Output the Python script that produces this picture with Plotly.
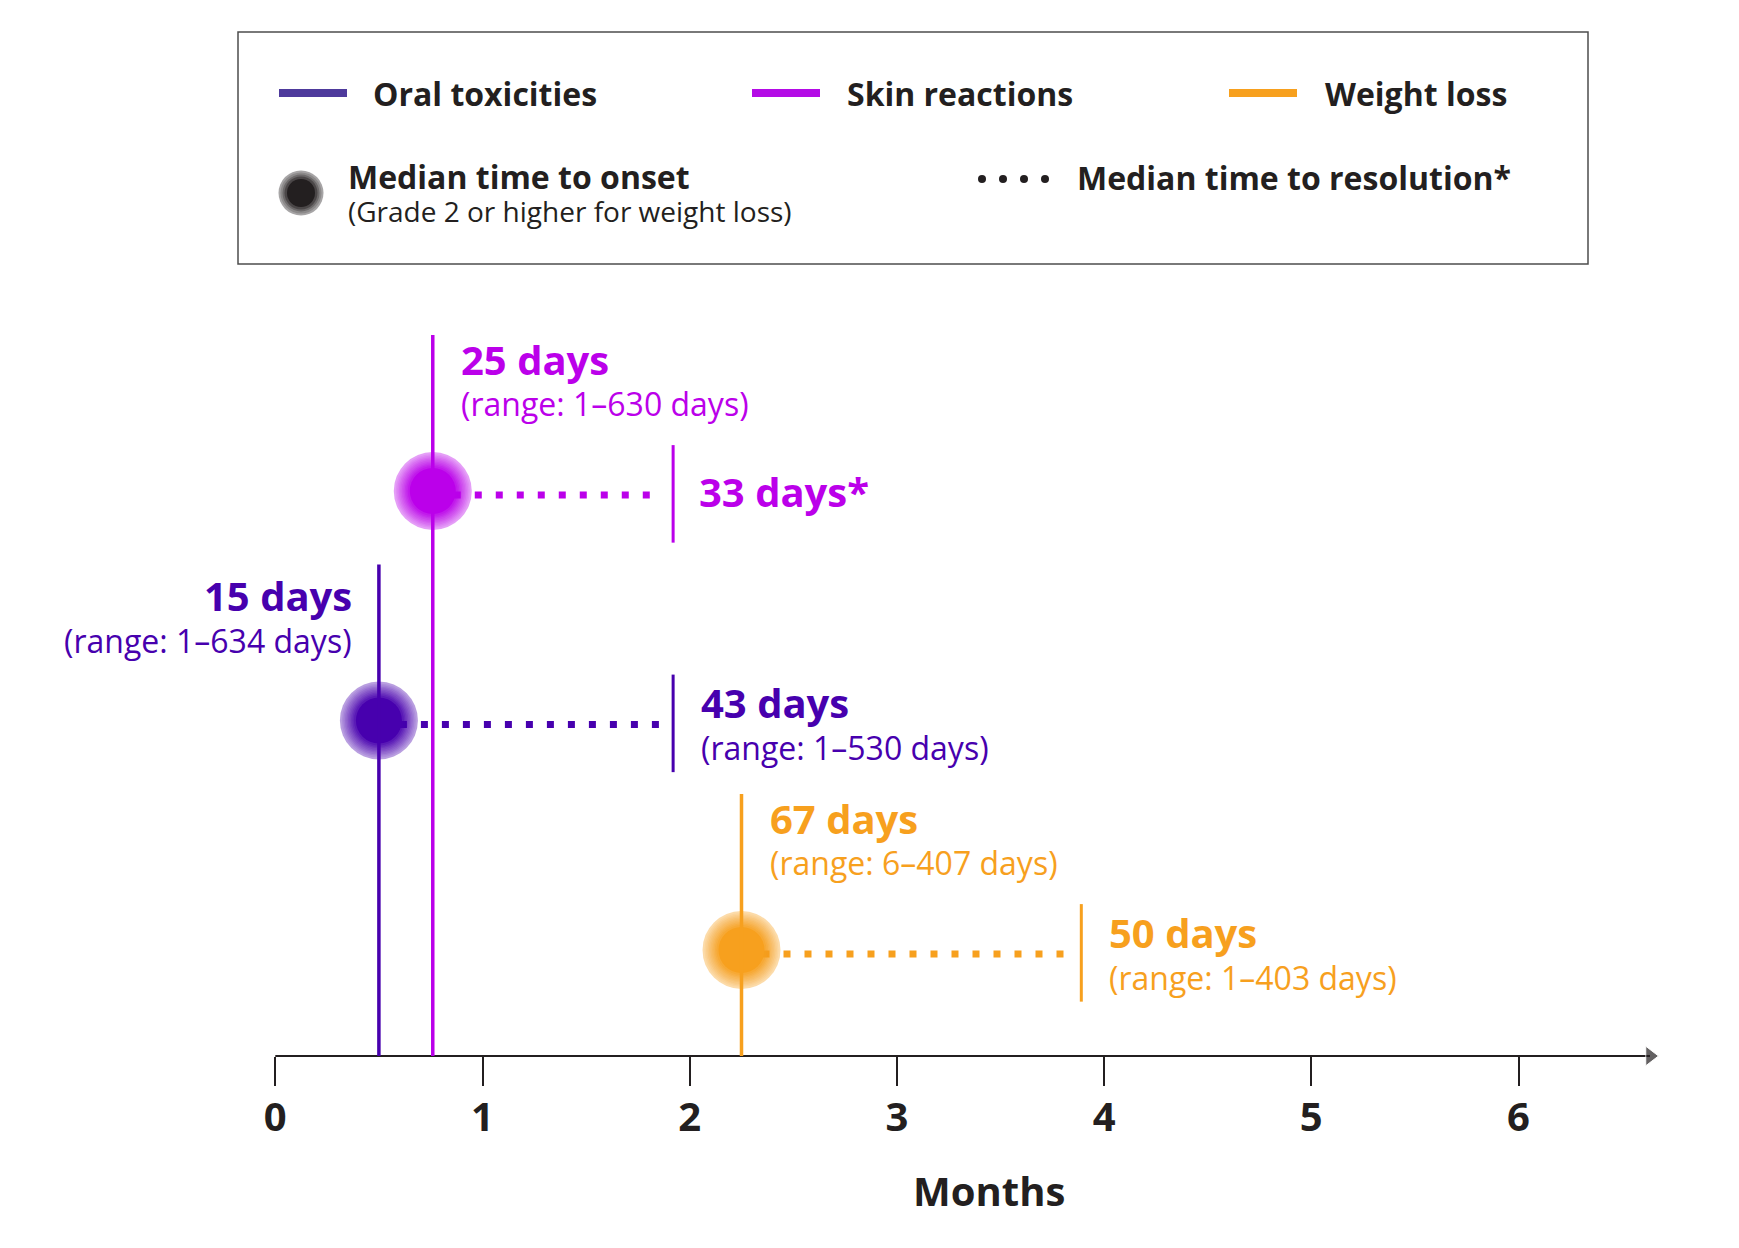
import plotly.graph_objects as go

# values (time axis is in months)
categories = ["Oral toxicities", "Skin reactions", "Weight loss"]
onset_days = [15, 25, 67]
onset_range = ["1–634", "1–630", "6–407"]
onset_month = [0.5, 0.76, 2.25]
resolution_days = [43, 33, 50]
resolution_range = ["1–530", "", "1–403"]
resolution_note = ["", "*", ""]
resolution_month = [1.92, 1.92, 3.89]
month_ticks = [0, 1, 2, 3, 4, 5, 6]

# styling
colors = {"Oral toxicities": "#4700ae", "Skin reactions": "#bb00ea", "Weight loss": "#f7a01e"}
legend_colors = {"Oral toxicities": "#4e3a9c", "Skin reactions": "#b40be6", "Weight loss": "#f7a01e"}
DARK = "#231f20"
FONT = "Open Sans"

# page size; the html body adds an 8px margin round the figure
W, H = 1739, 1248
OFF = 8
W_FIG, H_FIG = W - 2 * OFF, H - 2 * OFF

# scale of the time axis and of the rows, in page pixels
X0_PX, PX_PER_MONTH = 275.3, 207.2
ROW0_PX, PX_PER_ROW = 950, 229.5

# row of each category (top to bottom: skin, oral, weight)
row_of = {"Skin reactions": 2, "Oral toxicities": 1, "Weight loss": 0}
AXIS_Y = (ROW0_PX - 1056) / PX_PER_ROW
AXIS_END = (1650 - X0_PX) / PX_PER_MONTH
DOT_GAP = 12 / PX_PER_MONTH

# soft edged dots: (size, opacity) layers, outside in
HALO = [(78, 0.38), (74, 0.1), (71, 0.1), (68, 0.12), (65, 0.12), (62, 0.14),
        (59, 0.16), (56, 0.2), (53, 0.25), (50, 0.35), (46, 1.0)]


def px(x):
    return (x - OFF) / W_FIG


def py(y):
    return 1 - (y - OFF) / H_FIG


fig = go.Figure()
ann = []


def label(x, y, text, size, color, anchor="left", shift=0, bold=False, xref="x", yref="y"):
    if bold:
        text = "<b>" + text + "</b>"
    ann.append(dict(x=x, y=y, xref=xref, yref=yref, text=text, showarrow=False,
                    xanchor=anchor, yanchor="middle", xshift=shift,
                    font=dict(family=FONT, size=size, color=color)))


# time axis with arrow
fig.add_trace(go.Scatter(x=[0, AXIS_END], y=[AXIS_Y, AXIS_Y], mode="lines+markers",
                         line=dict(color=DARK, width=2),
                         marker=dict(symbol="triangle-right", size=[0, 17], color=DARK),
                         hoverinfo="skip"))

for i, cat in enumerate(categories):
    r = row_of[cat]
    c = colors[cat]
    # dotted line: onset -> resolution
    fig.add_trace(go.Scatter(x=[onset_month[i], resolution_month[i] - DOT_GAP], y=[r - 0.017, r - 0.017],
                             mode="lines", line=dict(color=c, width=7, dash="7px,14px"),
                             hoverinfo="skip"))
    # onset marker
    for size, op in HALO:
        fig.add_trace(go.Scatter(x=[onset_month[i]], y=[r], mode="markers",
                                 marker=dict(size=size, color=c, opacity=op, line=dict(width=0)),
                                 hoverinfo="skip"))
    # onset line from the axis
    fig.add_trace(go.Scatter(x=[onset_month[i], onset_month[i]], y=[AXIS_Y, r + 0.68], mode="lines",
                             line=dict(color=c, width=3.5), hoverinfo="skip"))
    # resolution bar
    fig.add_trace(go.Scatter(x=[resolution_month[i], resolution_month[i]], y=[r + 0.2, r - 0.225], mode="lines",
                             line=dict(color=c, width=3), hoverinfo="skip"))

    # onset text
    if cat == "Oral toxicities":
        label(onset_month[i], r + 0.545, f"{onset_days[i]} days", 40, c, "right", -25, True)
        label(onset_month[i], r + 0.35, f"(range: {onset_range[i]} days)", 32, c, "right", -25)
    else:
        label(onset_month[i], r + 0.571, f"{onset_days[i]} days", 40, c, "left", 26, True)
        label(onset_month[i], r + 0.38, f"(range: {onset_range[i]} days)", 32, c, "left", 26)

    # resolution text
    if resolution_range[i]:
        label(resolution_month[i], r + 0.078, f"{resolution_days[i]} days{resolution_note[i]}", 40, c, "left", 26, True)
        label(resolution_month[i], r - 0.118, f"(range: {resolution_range[i]} days)", 32, c, "left", 26)
    else:
        label(resolution_month[i], r - 0.004, f"{resolution_days[i]} days{resolution_note[i]}", 40, c, "left", 24, True)

# axis title
label(px(989), py(1190), "Months", 40, DARK, "center", 0, True, "paper", "paper")

# legend box
shapes = [dict(type="rect", xref="paper", yref="paper", x0=px(238), x1=px(1588), y0=py(32), y1=py(264),
               line=dict(color="#4d4d4d", width=1.5), fillcolor="white", layer="below")]
legend_x = {"Oral toxicities": (279, 347, 371), "Skin reactions": (752, 820, 845), "Weight loss": (1229, 1297, 1323)}
for cat in categories:
    x0, x1, xt = legend_x[cat]
    shapes.append(dict(type="line", xref="paper", yref="paper", x0=px(x0), x1=px(x1), y0=py(93), y1=py(93),
                       line=dict(color=legend_colors[cat], width=8)))
    label(px(xt), py(94), cat, 32, DARK, "left", 0, True, "paper", "paper")

# legend: onset dot
for rad, op in [(22.5, 0.4), (20.5, 0.2), (18.5, 0.3), (16.5, 0.45), (14, 1.0)]:
    shapes.append(dict(type="circle", xref="paper", yref="paper", xsizemode="pixel", ysizemode="pixel",
                       xanchor=px(301), yanchor=py(193), x0=-rad, x1=rad, y0=-rad, y1=rad,
                       fillcolor=DARK, opacity=op, line=dict(width=0)))
label(px(346), py(176), "Median time to onset", 32, DARK, "left", 0, True, "paper", "paper")
label(px(346), py(211), "(Grade 2 or higher for weight loss)", 28, DARK, "left", 0, False, "paper", "paper")

# legend: resolution dots
for xd in [982, 1003, 1024, 1045]:
    shapes.append(dict(type="circle", xref="paper", yref="paper", xsizemode="pixel", ysizemode="pixel",
                       xanchor=px(xd), yanchor=py(179), x0=-4, x1=4, y0=-4, y1=4,
                       fillcolor=DARK, line=dict(width=0)))
label(px(1075), py(177), "Median time to resolution*", 32, DARK, "left", 0, True, "paper", "paper")

x_left = (X0_PX - OFF) / PX_PER_MONTH
row0 = (ROW0_PX - OFF) / PX_PER_ROW
fig.update_layout(
    width=W_FIG, height=H_FIG, autosize=False,
    margin=dict(l=0, r=0, t=0, b=0),
    paper_bgcolor="white", plot_bgcolor="white",
    showlegend=False, hovermode=False,
    shapes=shapes, annotations=ann,
    xaxis=dict(range=[-x_left, W_FIG / PX_PER_MONTH - x_left], domain=[0, 1],
               anchor="free", position=py(1056),
               showgrid=False, zeroline=False, showline=False,
               tickvals=month_ticks, ticks="outside", ticklen=29, tickwidth=2, tickcolor=DARK,
               ticklabelstandoff=-3,
               tickfont=dict(family=FONT, size=40, color=DARK, weight="bold")),
    yaxis=dict(range=[row0 - H_FIG / PX_PER_ROW, row0], domain=[0, 1],
               visible=False, showgrid=False, zeroline=False),
)

fig.write_html("out.html")
